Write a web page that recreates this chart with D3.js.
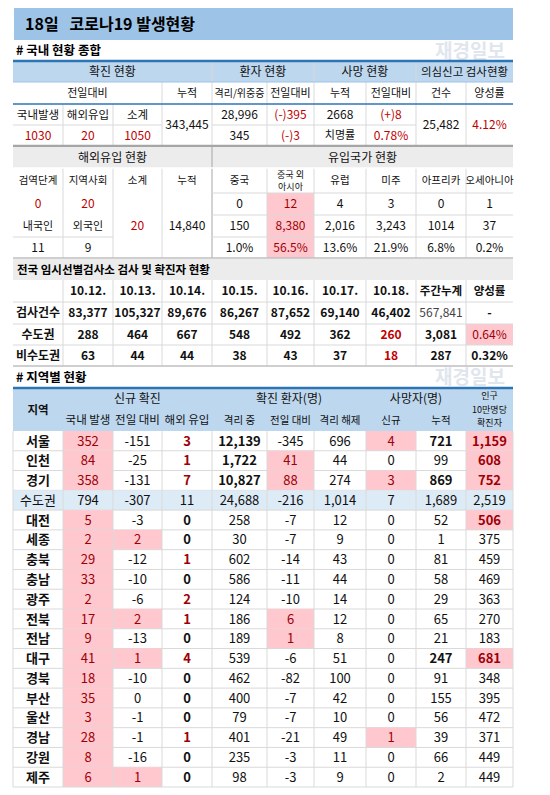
<!DOCTYPE html>
<html><head><meta charset="utf-8">
<script src="https://cdn.jsdelivr.net/npm/d3@7"></script>
<style>body{margin:0;background:#fff}text{font-family:"Noto Sans CJK KR","Noto Sans",sans-serif}</style>
</head><body><svg id="c" width="550" height="795"></svg>
<script>
// ---- data ----
const title = "18일   코로나19 발생현황";
const summaryConfirmed = {domestic:"1030", overseas:"20", subtotal:"1050", cumulative:"343,445"};
const summaryPatients = ["28,996","(-)395","345","(-)3"];
const summaryDeaths = ["2668","(+)8","치명률","0.78%"];
const summaryTests = ["25,482","4.12%"];
const importStage = ["0","20"];
const importNat = ["11","9"];
const importSub = "20", importCum = "14,840";
const originNames = ["중국","중국 외\n아시아","유럽","미주","아프리카","오세아니아"];
const originToday = ["0","12","4","3","0","1"];
const originCum = ["150","8,380","2,016","3,243","1014","37"];
const originPct = ["1.0%","56.5%","13.6%","21.9%","6.8%","0.2%"];
const testDates = ["10.12.","10.13.","10.14.","10.15.","10.16.","10.17.","10.18."];
const testCounts = ["83,377","105,327","89,676","86,267","87,652","69,140","46,402"];
const testCapital = ["288","464","667","548","492","362","260"];
const testNonCapital = ["63","44","44","38","43","37","18"];
const testTotals = ["567,841","3,081","287"];
const testRates = ["-","0.64%","0.32%"];
const regions = ["서울","인천","경기","수도권","대전","세종","충북","충남","광주","전북","전남","대구","경북","부산","울산","경남","강원","제주"];
const domestic = [352,84,358,794,5,2,29,33,2,17,9,41,18,35,3,28,8,6];
const dayDiff = [-151,-25,-131,-307,-3,2,-12,-10,-6,2,-13,1,-10,0,-1,-1,-16,1];
const overseasR = [3,1,7,11,0,0,1,0,2,1,0,4,0,0,0,1,0,0];
const isolating = [12139,1722,10827,24688,258,30,602,586,124,186,189,539,462,400,79,401,235,98];
const isoDiff = [-345,41,88,-216,-7,-7,-14,-11,-10,6,1,-6,-82,-7,-7,-21,-3,-3];
const released = [696,44,274,1014,12,9,43,44,14,12,8,51,100,42,10,49,11,9];
const deathNew = [4,0,3,7,0,0,0,0,0,0,0,0,0,0,0,1,0,0];
const deathCum = [721,99,869,1689,52,1,81,58,29,65,21,247,91,155,56,39,66,2];
const per100k = [1159,608,752,2519,506,375,459,469,363,270,183,681,348,395,472,371,449,449];

// ---- layout ----
const svg = d3.select("#c");
const X = [13,63,113,162,212,267,314,366,416,466,513];
const PINK="#ffc7ce", PINKT="#9c0006", RED="#c00000", HB="#bdd7ee", GR="#ececec", BL="#2e75b6", LINE="#d9d9d9";
const fmt = d3.format(",");
function cell(c0,c1,y0,y1,txt,o={}){
  const x0=X[c0], x1=X[c1];
  if(o.bg) svg.append("rect").attr("x",x0).attr("y",y0).attr("width",x1-x0).attr("height",y1-y0).attr("fill",o.bg);
  if(txt===undefined||txt==="") return;
  const lines=String(txt).split("\n"), fs=o.fs||12, lh=fs*(o.lh||1.3);
  lines.forEach((l,i)=>svg.append("text").attr("text-anchor",o.left?"start":"middle").attr("font-size",fs)
   .attr("font-weight",o.bold?"bold":"normal").attr("fill",o.color||"#111")
   .attr("x",o.left?x0+6:(x0+x1)/2)
   .attr("y",(y0+y1)/2+(i-(lines.length-1)/2)*lh).attr("dy","0.36em").text(l));
}
function hline(y,c0,c1,col,w){svg.append("line").attr("x1",X[c0]).attr("x2",X[c1]).attr("y1",y).attr("y2",y).attr("stroke",col||LINE).attr("stroke-width",w||1);}
function vline(x,y0,y1,col){svg.append("line").attr("x1",x).attr("x2",x).attr("y1",y0).attr("y2",y1).attr("stroke",col||LINE);}

// watermark
[58,384].forEach(yy=>svg.append("text").attr("x",505).attr("y",yy).attr("text-anchor","end").attr("font-size",19).attr("font-weight","bold").attr("fill","#dfe6ee").text("재경일보"));

// title
svg.append("rect").attr("x",14).attr("y",8).attr("width",499).attr("height",32).attr("fill","#9dc3e6");
svg.append("text").attr("x",25).attr("y",30).attr("font-size",16).attr("font-weight","bold").attr("xml:space","preserve").text(title);
svg.append("text").attr("x",16).attr("y",55).attr("font-size",12.5).attr("font-weight","bold").text("# 국내 현황 종합");

// table 1
const r1=[61,82,104,125,146];
cell(0,4,r1[0],r1[1],"확진 현황",{bg:HB});cell(4,6,r1[0],r1[1],"환자 현황",{bg:HB});
cell(6,8,r1[0],r1[1],"사망 현황",{bg:HB});cell(8,10,r1[0],r1[1],"의심신고 검사현황",{bg:HB,fs:11.5});
cell(0,3,r1[1],r1[2],"전일대비",{fs:11});cell(3,4,r1[1],r1[2],"누적",{fs:11});
["격리/위중증","전일대비","누적","전일대비","건수","양성률"].forEach((t,i)=>cell(4+i,5+i,r1[1],r1[2],t,{fs:i===0?10:11}));
cell(0,1,r1[2],r1[3],"국내발생",{fs:11.5});cell(1,2,r1[2],r1[3],"해외유입",{fs:11.5});cell(2,3,r1[2],r1[3],"소계",{fs:11.5});
cell(0,1,r1[3],r1[4],summaryConfirmed.domestic,{color:RED});cell(1,2,r1[3],r1[4],summaryConfirmed.overseas,{color:RED});
cell(2,3,r1[3],r1[4],summaryConfirmed.subtotal,{color:RED});cell(3,4,r1[2],r1[4],summaryConfirmed.cumulative);
cell(4,5,r1[2],r1[3],summaryPatients[0]);cell(5,6,r1[2],r1[3],summaryPatients[1],{color:RED});
cell(4,5,r1[3],r1[4],summaryPatients[2]);cell(5,6,r1[3],r1[4],summaryPatients[3],{color:RED});
cell(6,7,r1[2],r1[3],summaryDeaths[0]);cell(7,8,r1[2],r1[3],summaryDeaths[1],{color:RED});
cell(6,7,r1[3],r1[4],summaryDeaths[2],{fs:11});cell(7,8,r1[3],r1[4],summaryDeaths[3],{color:RED});
cell(8,9,r1[2],r1[4],summaryTests[0]);cell(9,10,r1[2],r1[4],summaryTests[1],{color:RED});
[1,2,3,4,5,6,7,8,9].forEach(i=>{const top=[4,6,8].includes(i)?r1[0]:r1[1]; if(i===1||i===2) vline(X[i],r1[2],r1[4]); else vline(X[i],top,r1[4]);});
hline(r1[3],0,3);hline(r1[3],4,8);hline(r1[1],0,10,"#9dc3e6");hline(r1[2],0,10,BL,1.5);
hline(r1[0],0,10,BL,2.5);hline(r1[4],0,10,"#a6a6a6",2.5);

// table 2
const r2=[147,168,193,215,237,258];
cell(0,4,r2[0],r2[1],"해외유입 현황",{bg:GR});cell(4,10,r2[0],r2[1],"유입국가 현황",{bg:GR});
["검역단계","지역사회","소계","누적"].forEach((t,i)=>cell(i,i+1,r2[1],r2[2],t,{fs:10.5}));
originNames.forEach((t,i)=>cell(4+i,5+i,r2[1],r2[2],t,{fs:t.includes("\n")?9:10.5}));
cell(0,1,r2[2],r2[3],importStage[0],{color:RED});cell(1,2,r2[2],r2[3],importStage[1],{color:RED});
cell(0,1,r2[3],r2[4],"내국인",{fs:11});cell(1,2,r2[3],r2[4],"외국인",{fs:11});
cell(0,1,r2[4],r2[5],importNat[0]);cell(1,2,r2[4],r2[5],importNat[1]);
cell(2,3,r2[2],r2[5],importSub,{color:RED});cell(3,4,r2[2],r2[5],importCum);
[originToday,originCum,originPct].forEach((arr,k)=>arr.forEach((v,i)=>cell(4+i,5+i,r2[2+k],r2[3+k],v,i===1?{bg:PINK,color:PINKT}:{})));
for(let i=1;i<10;i++) vline(X[i],i===4?r2[0]:r2[1],r2[5], i===4?"#a6a6a6":LINE);
hline(r2[1],0,10,"#fff",1.5);[r2[2],r2[3],r2[4]].forEach(y=>{hline(y,4,10);});hline(r2[4],0,2);hline(r2[5],0,10,"#bfbfbf",1.5);

// table 2b tests
const r3=[259,280,302,324,345,366];
cell(0,10,r3[0],r3[1],"",{bg:GR});
svg.append("text").attr("x",17).attr("y",(r3[0]+r3[1])/2).attr("dy","0.36em").attr("font-size",11.5).attr("font-weight","bold").text("전국 임시선별검사소 검사 및 확진자 현황");
testDates.forEach((d,i)=>cell(1+i,2+i,r3[1],r3[2],d,{bold:true}));
cell(8,9,r3[1],r3[2],"주간누계",{bold:true,fs:11.5});cell(9,10,r3[1],r3[2],"양성률",{bold:true,fs:11.5});
["검사건수","수도권","비수도권"].forEach((t,k)=>{
  cell(0,1,r3[2+k],r3[3+k],t,{bold:true});
  [testCounts,testCapital,testNonCapital][k].forEach((v,i)=>cell(1+i,2+i,r3[2+k],r3[3+k],v,{bold:true,color:(k>0&&i===6)?RED:"#111"}));
  cell(8,9,r3[2+k],r3[3+k],testTotals[k],k===0?{color:"#444"}:{bold:true});
  cell(9,10,r3[2+k],r3[3+k],testRates[k],k===1?{bg:PINK,color:PINKT}:{bold:true});
});
for(let i=1;i<10;i++) vline(X[i],r3[1],r3[5]);
[r3[2],r3[3],r3[4]].forEach(y=>hline(y,0,10));hline(r3[5],0,10,"#bfbfbf",1.5);

// table 3
svg.append("text").attr("x",16).attr("y",382).attr("font-size",12.5).attr("font-weight","bold").text("# 지역별 현황");
const h0=388,h1=409,h2=431,rh=(787-431)/18;
const y=d3.scaleLinear().domain([0,regions.length]).range([h2,h2+rh*regions.length]);
cell(0,10,h0,h2,"",{bg:HB});
cell(0,1,h0,h2,"지역",{bold:true,fs:11.5});cell(1,4,h0,h1,"신규 확진",{fs:12});cell(4,7,h0,h1,"확진 환자(명)",{fs:12});
cell(7,9,h0,h1,"사망자(명)",{fs:12});cell(9,10,h0,h2,"인구\n10만명당\n확진자",{fs:9,lh:1.5});
["국내 발생","전일 대비","해외 유입","격리 중","전일 대비","격리 해제","신규","누적"].forEach((t,i)=>cell(1+i,2+i,h1,h2,t,{fs:i<3?11.5:10.5}));
hline(h0,0,10,BL,2.5);
regions.forEach((r,i)=>{
  const a=y(i),b=y(i+1),cap=r==="수도권";
  const P={bg:PINK,color:PINKT};
  if(cap) cell(0,10,a,b,"",{bg:"#ddebf7"});
  cell(0,1,a,b,r,{bold:!cap,fs:13});
  cell(1,2,a,b,domestic[i],cap?{fs:13}:{...P,fs:13});
  cell(2,3,a,b,dayDiff[i],!cap&&dayDiff[i]>0?{...P,fs:13}:{fs:13});
  cell(3,4,a,b,overseasR[i],cap?{fs:13}:{bold:true,fs:13,color:overseasR[i]>0?"#9c0006":"#111"});
  cell(4,5,a,b,fmt(isolating[i]),{fs:13,bold:i<3});
  cell(5,6,a,b,isoDiff[i],!cap&&isoDiff[i]>0?{...P,fs:13}:{fs:13});
  cell(6,7,a,b,fmt(released[i]),{fs:13});
  cell(7,8,a,b,deathNew[i],!cap&&deathNew[i]>0?{...P,fs:13}:{fs:13});
  cell(8,9,a,b,fmt(deathCum[i]),{fs:13,bold:!cap&&deathCum[i]>200});
  cell(9,10,a,b,fmt(per100k[i]),!cap&&per100k[i]>500?{...P,fs:13,bold:true}:{fs:13});
  hline(b,0,10);
});
for(let i=1;i<10;i++) vline(X[i],h2,y(regions.length));
vline(X[0],h2,y(regions.length));vline(X[10],h2,y(regions.length));
</script></body></html>
